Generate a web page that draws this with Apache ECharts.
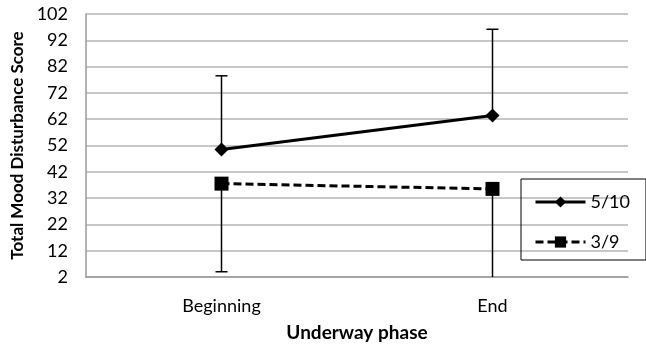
<!DOCTYPE html>
<html>
<head>
<meta charset="utf-8">
<script src="https://cdn.jsdelivr.net/npm/echarts@6/dist/echarts.min.js"></script>
<style>
  html, body { margin: 0; padding: 0; background: #fff; }
  #chart { width: 646px; height: 346px; }
</style>
</head>
<body>
<div id="chart"></div>
<script>
var categories = ['Beginning', 'End'];
var yTicks = [2, 12, 22, 32, 42, 52, 62, 72, 82, 92, 102];
var series510 = [50.5, 63.4];
var series39 = [37.5, 35.5];
// error bars: 5/10 shows only the upper bar, 3/9 only the lower one
var upper510 = [78.5, 96.2];
var lower39 = [4, -4];

var font = 'Lato, "Open Sans", sans-serif';

function errorBar(lows, highs) {
    return function (params, api) {
        var i = params.dataIndex;
        var p0 = api.coord([i, lows[i]]);
        var p1 = api.coord([i, highs[i]]);
        var rect = params.coordSys;
        var bottom = rect.y + rect.height;
        var children = [{
            type: 'line',
            shape: { x1: p0[0], y1: Math.min(p0[1], bottom), x2: p1[0], y2: Math.min(p1[1], bottom) },
            style: { stroke: '#000', lineWidth: 1.5 }
        }];
        [p0, p1].forEach(function (p) {
            if (p[1] <= bottom) {
                children.push({
                    type: 'line',
                    shape: { x1: p[0] - 6, y1: p[1], x2: p[0] + 6, y2: p[1] },
                    style: { stroke: '#000', lineWidth: 1.5 }
                });
            }
        });
        return { type: 'group', children: children };
    };
}

var myChart = echarts.init(document.getElementById('chart'));
var option = {
    animation: false,
    textStyle: { fontFamily: font },
    grid: { left: 86, right: 18, top: 14, bottom: 69, outerBoundsMode: 'none' },
    legend: {
        orient: 'vertical',
        left: 521,
        top: 179,
        itemWidth: 50,
        itemHeight: 14,
        itemGap: 22,
        padding: [14, 16, 9, 13],
        borderColor: '#000',
        borderWidth: 1,
        lineStyle: { width: 3 },
        textStyle: { fontFamily: font, fontSize: 18, color: '#000' },
        data: ['5/10', '3/9']
    },
    xAxis: {
        type: 'category',
        data: categories,
        name: 'Underway phase',
        nameLocation: 'middle',
        nameGap: 46,
        nameTextStyle: { fontFamily: font, fontSize: 19, fontWeight: 'bold', color: '#000' },
        axisLine: { lineStyle: { color: '#999', width: 1.5 } },
        axisTick: { show: false },
        axisLabel: { fontSize: 18, color: '#000', margin: 20 }
    },
    yAxis: {
        type: 'value',
        min: yTicks[0],
        max: yTicks[yTicks.length - 1],
        interval: 10,
        name: 'Total Mood Disturbance Score',
        nameLocation: 'middle',
        nameGap: 56,
        nameTextStyle: { fontFamily: font, fontSize: 17, fontWeight: 'bold', color: '#000' },
        axisLine: { show: true, lineStyle: { color: '#999', width: 1.5 } },
        axisTick: { show: false },
        axisLabel: { fontSize: 18, color: '#000', margin: 18 },
        splitLine: { lineStyle: { color: '#b4b4b4', width: 1.5 } }
    },
    series: [
        {
            name: '5/10',
            type: 'line',
            data: series510,
            symbol: 'diamond',
            symbolSize: 14,
            lineStyle: { color: '#000', width: 3 },
            itemStyle: { color: '#000' },
            z: 3
        },
        {
            name: '3/9',
            type: 'line',
            data: series39,
            symbol: 'rect',
            symbolSize: 14,
            lineStyle: { color: '#000', width: 3, type: [8, 4] },
            itemStyle: { color: '#000' },
            z: 3
        },
        {
            type: 'custom',
            renderItem: errorBar(series510, upper510),
            data: series510,
            z: 2
        },
        {
            type: 'custom',
            renderItem: errorBar(lower39, series39),
            data: series39,
            z: 2
        }
    ]
};
myChart.setOption(option);
</script>
</body>
</html>
